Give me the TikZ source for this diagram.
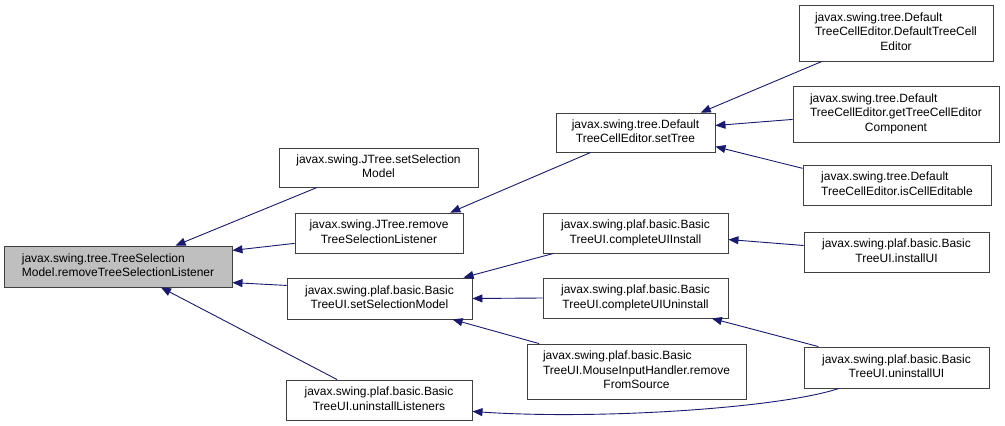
\documentclass[tikz,border=0pt]{standalone}
\usepackage{fontspec}
\setmainfont{Liberation Sans}
\usepackage{xcolor}
\usetikzlibrary{arrows.meta}
\definecolor{edgeblue}{HTML}{191970}
\definecolor{rootgray}{HTML}{BFBFBF}
\newcommand{\fnlines}[2]{\begin{tabular}{@{}l@{}}#1\\\multicolumn{1}{@{}c@{}}{#2}\end{tabular}}

\begin{document}
\begin{tikzpicture}[x=1pt,y=-1pt,
fn/.style={draw=black!75,line width=0.9pt,inner sep=0pt,font=\fontsize{12}{14.5}\selectfont},
call/.style={draw=edgeblue,line width=0.9pt,{Triangle[length=10pt,width=8pt]}-}
]
\useasboundingbox (0,0) rectangle (1005,426);
\node[fn,fill=rootgray,minimum width=228pt,minimum height=41pt] (tsm) at (118,266.5) {\fnlines{javax.swing.tree.TreeSelection}{Model.removeTreeSelectionListener}};
\node[fn,minimum width=199pt,minimum height=39pt] (jtSetSel) at (378.5,167.5) {\fnlines{javax.swing.JTree.setSelection}{Model}};
\node[fn,minimum width=168pt,minimum height=40pt] (jtRemove) at (379,233) {\fnlines{javax.swing.JTree.remove}{TreeSelectionListener}};
\node[fn,minimum width=185pt,minimum height=41pt] (uiSetSel) at (379.5,298.5) {\fnlines{javax.swing.plaf.basic.Basic}{TreeUI.setSelectionModel}};
\node[fn,minimum width=186pt,minimum height=40pt] (uiUninstLis) at (379,400) {\fnlines{javax.swing.plaf.basic.Basic}{TreeUI.uninstallListeners}};
\node[fn,minimum width=159pt,minimum height=39pt] (setTree) at (635.5,132.5) {\fnlines{javax.swing.tree.Default}{TreeCellEditor.setTree}};
\node[fn,minimum width=185pt,minimum height=40pt] (uiComplInst) at (635.5,233) {\fnlines{javax.swing.plaf.basic.Basic}{TreeUI.completeUIInstall}};
\node[fn,minimum width=185pt,minimum height=40pt] (uiComplUninst) at (635.5,298) {\fnlines{javax.swing.plaf.basic.Basic}{TreeUI.completeUIUninstall}};
\node[fn,minimum width=219pt,minimum height=55pt] (mouseRemove) at (636.5,371.5) {\fnlines{javax.swing.plaf.basic.Basic\\TreeUI.MouseInputHandler.remove}{FromSource}};
\node[fn,minimum width=194pt,minimum height=56pt] (dtceCtor) at (896,33) {\fnlines{javax.swing.tree.Default\\TreeCellEditor.DefaultTreeCell}{Editor}};
\node[fn,minimum width=206pt,minimum height=56pt] (dtceGetComp) at (896,114) {\fnlines{javax.swing.tree.Default\\TreeCellEditor.getTreeCellEditor}{Component}};
\node[fn,minimum width=188pt,minimum height=40pt] (dtceEditable) at (897,185) {\fnlines{javax.swing.tree.Default}{TreeCellEditor.isCellEditable}};
\node[fn,minimum width=185pt,minimum height=40pt] (uiInstallUI) at (896.5,252) {\fnlines{javax.swing.plaf.basic.Basic}{TreeUI.installUI}};
\node[fn,minimum width=185pt,minimum height=41pt] (uiUninstallUI) at (896.5,367.5) {\fnlines{javax.swing.plaf.basic.Basic}{TreeUI.uninstallUI}};
% callers of removeTreeSelectionListener
\draw[call] (tsm.20) -- (jtSetSel.198);
\draw[call] (tsm.8) -- (jtRemove.187);
\draw[call] (tsm.-8) -- (uiSetSel.172);
\draw[call] (tsm.-26) -- (uiUninstLis.154);
% second level
\draw[call] (jtRemove.16) -- (setTree.204);
\draw[call] (uiSetSel.14) -- (uiComplInst.194);
\draw[call] (uiSetSel.east) -- (uiComplUninst.west);
\draw[call] (uiSetSel.-16) -- (mouseRemove.164);
\draw[call] (uiUninstLis.-7) .. controls (600,420) and (780,408) .. (uiUninstallUI.200);
% third level
\draw[call] (setTree.17) -- (dtceCtor.201);
\draw[call] (setTree.5) -- (dtceGetComp.183);
\draw[call] (setTree.-10) -- (dtceEditable.170);
\draw[call] (uiComplInst.-4) -- (uiInstallUI.176);
\draw[call] (uiComplUninst.-15) -- (uiUninstallUI.165);
\end{tikzpicture}
\end{document}
